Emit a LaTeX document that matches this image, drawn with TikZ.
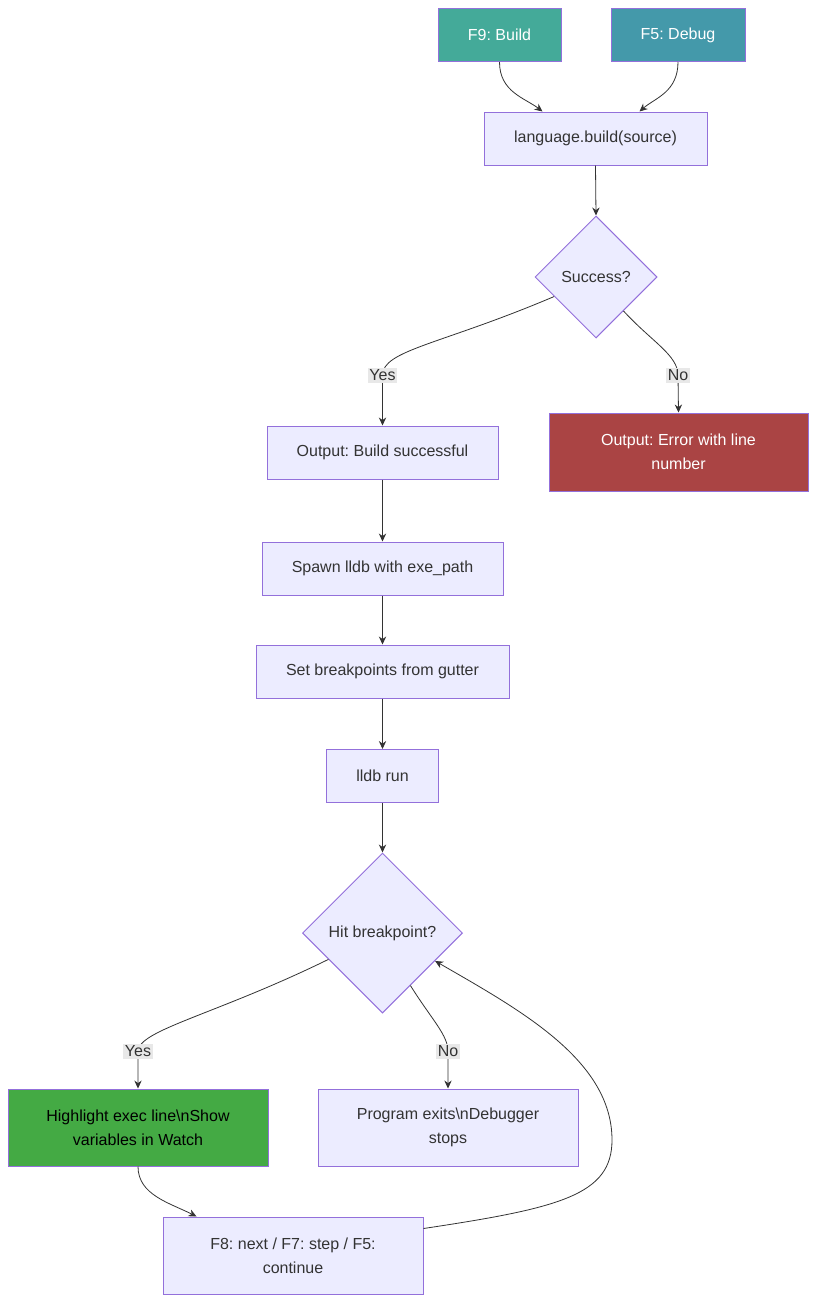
\documentclass[tikz,border=0pt]{standalone}
\usepackage{fontspec}
\setmainfont{Liberation Sans}
\frenchspacing
\usetikzlibrary{shapes.geometric,arrows.meta,calc}
\definecolor{boxfill}{HTML}{ECECFF}
\definecolor{boxline}{HTML}{9370DB}
\definecolor{txt}{HTML}{333333}
\definecolor{buildcol}{HTML}{44AA99}
\definecolor{debugcol}{HTML}{4499AA}
\definecolor{errcol}{HTML}{AA4444}
\definecolor{okcol}{HTML}{44AA44}
\definecolor{lblfill}{HTML}{E8E8E8}
\begin{document}
\begin{tikzpicture}[x=0.75pt,y=-0.75pt,
  box/.style={draw=boxline,fill=boxfill,line width=0.75pt,text=txt,font=\fontsize{12}{18}\selectfont,align=center,inner sep=0pt,minimum height=39.75pt},
  decision/.style={diamond,aspect=1,draw=boxline,fill=boxfill,line width=0.75pt,text=txt,font=\fontsize{12}{18}\selectfont,inner sep=0pt},
  flow/.style={draw=txt,line width=0.6pt,-{Stealth[length=6pt,width=5.5pt]}},
  lbl/.style={fill=lblfill,text=txt,font=\fontsize{12}{14}\selectfont,inner sep=1.2pt}]
\useasboundingbox (0,0) rectangle (816,1303);
% keys
\node[box,fill=buildcol,text=white,minimum width=92.25pt] (build) at (499.5,35) {F9: Build};
\node[box,fill=debugcol,text=white,minimum width=100.5pt] (debug) at (678,35) {F5: Debug};
\node[box,minimum width=167.25pt] (lang) at (595.5,138.5) {language.build(source)};
\node[decision,minimum width=91.5pt,minimum height=91.5pt] (success) at (596,277) {Success?};
\node[box,minimum width=173.25pt] (ok) at (382.5,452.5) {Output: Build successful};
\node[box,fill=errcol,text=white,minimum width=194.25pt,minimum height=58.5pt] (err) at (678.5,452) {Output: Error with line\\number};
\node[box,minimum width=180.75pt] (spawn) at (382.5,568.5) {Spawn lldb with exe\_path};
\node[box,minimum width=189.75pt] (setbp) at (382.5,671.5) {Set breakpoints from gutter};
\node[box,minimum width=84pt] (run) at (382.5,776) {lldb run};
\node[decision,minimum width=120pt,minimum height=120pt] (hit) at (382.5,933) {Hit breakpoint?};
\node[box,fill=okcol,text=black,minimum width=195pt,minimum height=57.75pt] (show) at (138,1127.5) {Highlight exec line\textbackslash nShow\\variables in Watch};
\node[box,minimum width=195pt,minimum height=57.75pt] (exits) at (448,1127.5) {Program exits\textbackslash nDebugger\\stops};
\node[box,minimum width=195pt,minimum height=57.75pt] (step) at (293,1255.5) {F8: next / F7: step / F5:\\continue};
% label spots
\coordinate (yesApos) at (382.5,375.5);
\coordinate (noApos) at (678,375.5);
\coordinate (yesBpos) at (138,1051.5);
\coordinate (noBpos) at (448,1051.5);
% connectors
\draw[flow] (build.south) .. controls (499.5,92) and (525,98) .. ($(lang.north west)+(59,0)$);
\draw[flow] (debug.south) .. controls (678,92) and (655,98) .. ($(lang.north west)+(156,0)$);
\draw[flow] (lang.south) -- (success.north);
\draw[flow] (success.205) .. controls (440,345) and (382.5,350) .. (yesApos) -- (ok.north);
\draw[flow] (success.-51) .. controls (652,342) and (678,355) .. (noApos) -- (err.north);
\draw[flow] (ok.south) -- (spawn.north);
\draw[flow] (spawn.south) -- (setbp.north);
\draw[flow] (setbp.south) -- (run.north);
\draw[flow] (run.south) -- (hit.north);
\draw[flow] (hit.206) .. controls (215,1015) and (138,1030) .. (yesBpos) -- (show.north);
\draw[flow] (hit.-62) .. controls (432,1020) and (448,1035) .. (noBpos) -- (exits.north);
\draw[flow] (show.south) .. controls (138,1195) and (170,1203) .. ($(step.north west)+(34,0)$);
\draw[flow] ($(step.north east)+(0,12)$) .. controls (560,1208) and (612,1195) .. (612,1140)
  .. controls (612,1060) and (520,1010) .. (hit.-28);
% edge labels
\node[lbl] (yesA) at (yesApos) {Yes};
\node[lbl] (noA) at (noApos) {No};
\node[lbl] (yesB) at (yesBpos) {Yes};
\node[lbl] (noB) at (noBpos) {No};
\end{tikzpicture}
\end{document}
